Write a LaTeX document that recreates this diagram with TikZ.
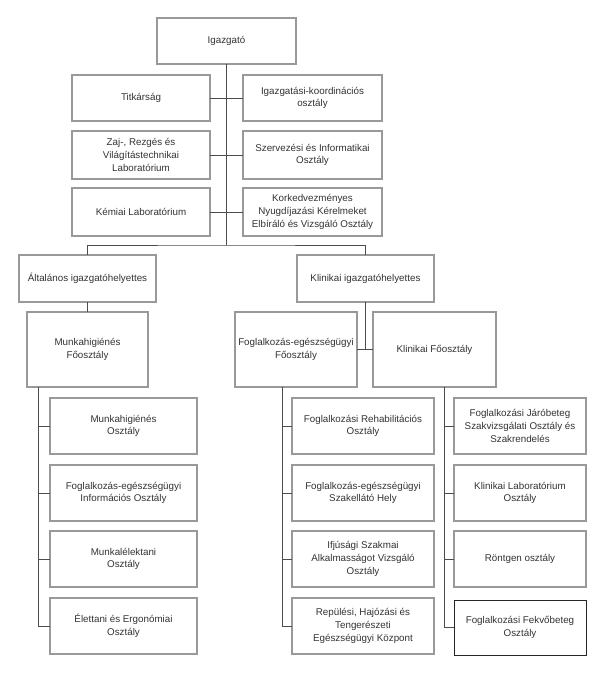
\documentclass[tikz,border=0pt]{standalone}
\usepackage{fontspec}
\setmainfont{Liberation Sans}
\begin{document}
\begin{tikzpicture}[x=1pt,y=-1pt,
  bx/.style={draw=black!75, double=black!40, double distance=1.2pt, line width=0.7pt,
    align=center, inner sep=1pt, font=\fontsize{9.8}{12.8}\selectfont, text=black!80},
  sbx/.style={draw=black!85, line width=0.9pt, align=center, inner sep=1pt,
    font=\fontsize{9.8}{12.8}\selectfont, text=black!80},
  ln/.style={draw=black!70, line width=0.8pt}]
\useasboundingbox (0,0) rectangle (608,678);
\fill[white] (0,0) rectangle (608,678);
% top
\node[bx, minimum width=139, minimum height=46] (ig) at (226.5,41) {Igazgató};
\node[bx, minimum width=138, minimum height=46] (titk) at (141,98) {Titkárság};
\node[bx, minimum width=139, minimum height=46] (igk) at (312.5,98) {Igazgatási-koordinációs\\osztály};
\node[bx, minimum width=138, minimum height=48] (zaj) at (141,155) {Zaj-, Rezgés és\\Világítástechnikai\\Laboratórium};
\node[bx, minimum width=139, minimum height=48] (szerv) at (312.5,155) {Szervezési és Informatikai\\Osztály};
\node[bx, minimum width=138, minimum height=48] (kem) at (141,212) {Kémiai Laboratórium};
\node[bx, minimum width=139, minimum height=48] (kork) at (312.5,212) {Korkedvezményes\\Nyugdíjazási Kérelmeket\\Elbíráló és Vizsgáló Osztály};
% deputies
\node[bx, minimum width=137, minimum height=47] (alt) at (87.5,278.5) {Általános igazgatóhelyettes};
\node[bx, minimum width=137, minimum height=47] (kig) at (365.5,278.5) {Klinikai igazgatóhelyettes};
% main departments
\node[bx, minimum width=121, minimum height=75] (mf) at (87.5,349.5) {Munkahigiénés\\Főosztály};
\node[bx, minimum width=122, minimum height=75] (fef) at (296,349.5) {Foglalkozás-egészségügyi\\Főosztály};
\node[bx, minimum width=123, minimum height=75] (kf) at (434.5,349.5) {Klinikai Főosztály};
% left column
\node[bx, minimum width=147, minimum height=56] (l1) at (123.5,426) {Munkahigiénés\\Osztály};
\node[bx, minimum width=147, minimum height=56] (l2) at (123.5,493) {Foglalkozás-egészségügyi\\Információs Osztály};
\node[bx, minimum width=147, minimum height=56] (l3) at (123.5,559) {Munkalélektani\\Osztály};
\node[bx, minimum width=147, minimum height=56] (l4) at (123.5,626) {Élettani és Ergonómiai\\Osztály};
% middle column
\node[bx, minimum width=142, minimum height=56] (m1) at (363,426) {Foglalkozási Rehabilitációs\\Osztály};
\node[bx, minimum width=142, minimum height=56] (m2) at (363,493) {Foglalkozás-egészségügyi\\Szakellátó Hely};
\node[bx, minimum width=142, minimum height=56] (m3) at (363,559) {Ifjúsági Szakmai\\Alkalmasságot Vizsgáló\\Osztály};
\node[bx, minimum width=142, minimum height=56] (m4) at (363,626) {Repülési, Hajózási és\\Tengerészeti\\Egészségügyi Központ};
% right column
\node[bx, minimum width=132, minimum height=56] (r1) at (520,426) {Foglalkozási Járóbeteg\\Szakvizsgálati Osztály és\\Szakrendelés};
\node[bx, minimum width=132, minimum height=56] (r2) at (520,493) {Klinikai Laboratórium\\Osztály};
\node[bx, minimum width=132, minimum height=56] (r3) at (520,559) {Röntgen osztály};
\node[sbx, minimum width=132, minimum height=55] (r4) at (520,627.5) {Foglalkozási Fekvőbeteg\\Osztály};
% coordinates
\coordinate (bar) at (226.5,245);
\coordinate (lt) at (38,387);
\coordinate (mt) at (282,387);
\coordinate (rt) at (444,387);
% connectors
\draw[ln] (ig.south) -- (bar);
\draw[ln] (titk.east) -- (igk.west);
\draw[ln] (zaj.east) -- (szerv.west);
\draw[ln] (kem.east) -- (kork.west);
\draw[ln] (alt.north) |- (bar) -| (kig.north);
\draw[ln] (alt.south) -- (mf.north);
\draw[ln] (kig.south) -- (kig.south |- fef.east);
\draw[ln] (fef.east) -- (kf.west);
\draw[ln] (lt) |- (l4.west);
\foreach \n in {l1,l2,l3} \draw[ln] (lt |- \n.west) -- (\n.west);
\draw[ln] (mt) |- (m4.west);
\foreach \n in {m1,m2,m3} \draw[ln] (mt |- \n.west) -- (\n.west);
\draw[ln] (rt) |- (r4.west);
\foreach \n in {r1,r2,r3} \draw[ln] (rt |- \n.west) -- (\n.west);
\end{tikzpicture}
\end{document}
